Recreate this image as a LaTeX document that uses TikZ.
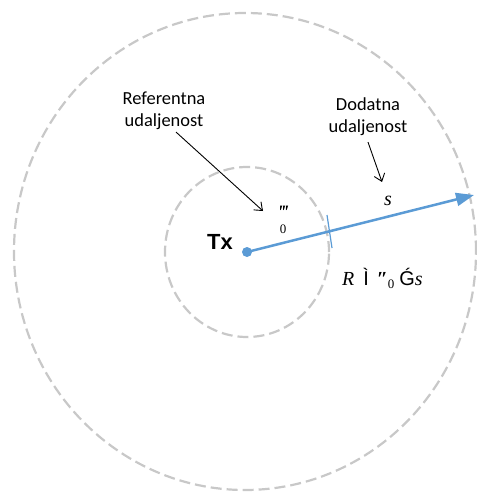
\documentclass[tikz,border=0pt]{standalone}
\usepackage{fontspec}
\setmainfont{Liberation Serif}
\setsansfont{Liberation Sans}
\newfontfamily\lblfont{Carlito}
\usepackage{xcolor}
\usetikzlibrary{arrows.meta,positioning,calc}
\definecolor{rayblue}{HTML}{5B9BD5}
\definecolor{ringgray}{HTML}{C8C8C8}

\begin{document}
\begin{tikzpicture}[
    x=1bp, y=-1bp,
    ring/.style={draw=ringgray, line width=2.2bp, dash pattern=on 11bp off 5bp},
    lbl/.style={align=center, font=\lblfont\fontsize{18.5}{22}\selectfont, inner sep=0pt},
    ptr/.style={-{Straight Barb[length=7bp,width=11bp]}, line width=0.9bp},
    ray/.style={-{Triangle[length=18bp,width=13bp]}, rayblue, line width=2.5bp},
    sym/.style={inner sep=0pt, font=\fontsize{20}{24}\selectfont}
  ]
    \useasboundingbox (0,0) rectangle (477,493);

    % zone rings
    \draw[ring] (245,251.5) ellipse [x radius=231bp, y radius=238.5bp];
    \draw[ring] (247,252) ellipse [x radius=82bp, y radius=85bp];

    \node[circle, fill=rayblue, inner sep=0pt, minimum size=10bp] (tx) at (247,252) {};
    \node[inner sep=0pt, font=\sffamily\bfseries\fontsize{22}{25}\selectfont] (txl) at (220,242) {Tx};

    \coordinate (rim) at (474,195);
    \draw[ray] (tx.center) -- (rim);
    \draw[rayblue, line width=1.2bp] (327,215) -- (332,248);

    \node[lbl] (ref) at (164,111) {Referentna\\udaljenost};
    \node[lbl] (dod) at (368,117) {Dodatna\\udaljenost};
    \coordinate (refend) at (263,211);
    \coordinate (dodend) at (382,182);
    \draw[ptr] ([xshift=12bp,yshift=-2bp]ref.south) -- (refend);
    \draw[ptr] ([yshift=-6bp]dod.south) -- (dodend);

    \node[sym] (sl) at (388,201) {\textit{s}};
    \node[inner sep=0pt, font=\bfseries\itshape\fontsize{19}{20}\selectfont] (dz) at (283,212) {‴};
    \node[inner sep=0pt, font=\fontsize{13}{14}\selectfont] (dzs) at (283,229) {0};
    \node[sym, anchor=base west] (rf) at (342,285) {\textit{R}\hspace{9bp}{\sffamily Ì}\hspace{8bp}{\bfseries\itshape ″}\raisebox{-3bp}{\fontsize{13}{14}\selectfont 0}\hspace{5bp}{\sffamily Ǵ}\textit{s}};
\end{tikzpicture}
\end{document}
